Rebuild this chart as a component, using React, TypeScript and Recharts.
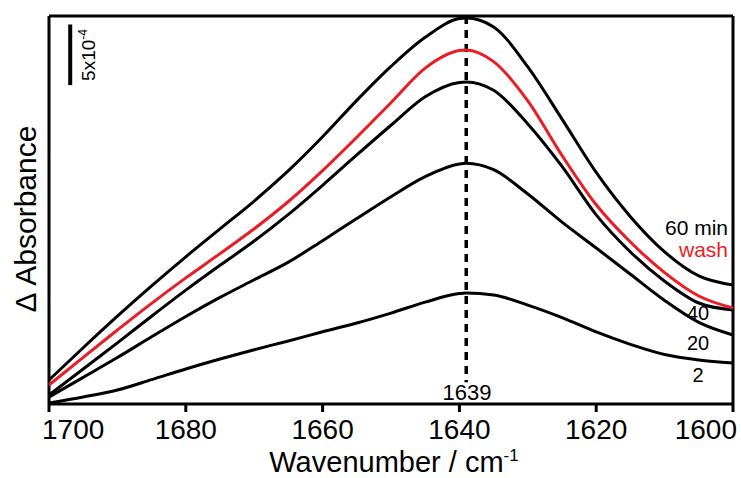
import { LineChart, Line, XAxis, YAxis, ReferenceLine, Label } from 'recharts';

const wavenumbers = [1700, 1695, 1690, 1685, 1680, 1675, 1670, 1665, 1660, 1655, 1650, 1645, 1640, 1639, 1635, 1630, 1625, 1620, 1615, 1610, 1605, 1600];
const min60 = [1.98, 4.64, 7.24, 9.74, 12.14, 14.44, 16.74, 19.24, 22.04, 25.04, 27.84, 30.24, 31.79, 31.84, 31.1, 27.8, 23.5, 19.1, 15.45, 12.55, 10.56, 9.81];
const wash = [1.57, 3.85, 6.1, 8.3, 10.4, 12.4, 14.45, 16.7, 19.25, 22.0, 24.85, 27.7, 29.15, 29.2, 28.24, 25.0, 20.5, 16.43, 13.36, 10.84, 8.91, 7.92];
const min40 = [0.74, 2.89, 5.04, 7.24, 9.39, 11.44, 13.44, 15.64, 18.04, 20.54, 22.99, 25.34, 26.52, 26.56, 25.87, 23.1, 19.6, 15.6, 12.54, 10.13, 8.33, 7.75];
const min20 = [0.58, 2.2, 3.83, 5.54, 7.22, 8.79, 10.25, 11.7, 13.47, 15.3, 17.1, 18.75, 19.8, 19.85, 19.32, 17.32, 15.0, 12.87, 10.7, 8.54, 6.73, 5.69];
const min2 = [0.08, 0.58, 1.15, 2.01, 2.89, 3.71, 4.48, 5.2, 5.96, 6.68, 7.5, 8.4, 9.11, 9.15, 8.99, 8.16, 7.13, 5.94, 4.92, 4.08, 3.63, 3.38];
const xTicks = [1700, 1680, 1660, 1640, 1620, 1600];
const peak = 1639;

const data = wavenumbers.map((wn, i) => ({
  wn,
  m60: min60[i],
  wash: wash[i],
  m40: min40[i],
  m20: min20[i],
  m2: min2[i],
}));

const FONT = '"Liberation Sans", Arial, sans-serif';
const RED = '#ec1c24';

const XTick = ({ x, y, payload }: any) => {
  let anchor = 'middle';
  let dx = 0;
  if (payload.value === 1700) { anchor = 'start'; dx = -7; }
  if (payload.value === 1600) { anchor = 'end'; dx = 4; }
  return (
    <text x={x + dx} y={y} dy="0.71em" textAnchor={anchor} fontSize={28} fill="#000" fontFamily={FONT}>
      {payload.value}
    </text>
  );
};

const XTitle = () => (
  <text x={394} y={471.5} textAnchor="middle" fontSize={29} fill="#000" fontFamily={FONT}>
    Wavenumber / cm<tspan dy={-11} fontSize={17}>-1</tspan>
  </text>
);

export default function App() {
  return (
    <div style={{ position: 'absolute', left: 0, top: 0, background: '#fff', fontFamily: FONT }}>
      <LineChart width={741} height={478} data={data} margin={{ top: 16, right: 8, left: 49, bottom: 0 }}>
        <XAxis
          dataKey="wn"
          type="number"
          domain={[1600, 1700]}
          reversed
          ticks={xTicks}
          interval={0}
          height={74}
          tickSize={8}
          tickMargin={7}
          axisLine={{ stroke: '#000', strokeWidth: 3 }}
          tickLine={{ stroke: '#000', strokeWidth: 3 }}
          tick={<XTick />}
        >
          <Label content={<XTitle />} />
        </XAxis>
        <YAxis hide type="number" domain={[0, 32]} />
        <ReferenceLine y={32} stroke="#000" strokeWidth={3} />
        <ReferenceLine x={1700} stroke="#000" strokeWidth={3} />
        <ReferenceLine x={1600} stroke="#000" strokeWidth={3} />
        <ReferenceLine
          segment={[{ x: peak, y: 32 }, { x: peak, y: 1.8 }]}
          stroke="#000"
          strokeWidth={3.5}
          strokeDasharray="8 6"
        />
        {/* scale bar: 5 units = 5x10^-4 */}
        <ReferenceLine
          segment={[{ x: 1696.9, y: 31.3 }, { x: 1696.9, y: 26.3 }]}
          stroke="#000"
          strokeWidth={4}
        />
        <Line type="monotone" dataKey="m2" stroke="#000" strokeWidth={3} dot={false} isAnimationActive={false} />
        <Line type="monotone" dataKey="m20" stroke="#000" strokeWidth={3} dot={false} isAnimationActive={false} />
        <Line type="monotone" dataKey="m40" stroke="#000" strokeWidth={3} dot={false} isAnimationActive={false} />
        <Line type="monotone" dataKey="m60" stroke="#000" strokeWidth={3} dot={false} isAnimationActive={false} />
        <Line type="monotone" dataKey="wash" stroke={RED} strokeWidth={3} dot={false} isAnimationActive={false} />

        <text x={467} y={400} textAnchor="middle" fontSize={22} fill="#000" fontFamily={FONT}>1639</text>
        <text x={728} y={235} textAnchor="end" fontSize={21} fill="#000" fontFamily={FONT}>60 min</text>
        <text x={728} y={257} textAnchor="end" fontSize={21} fill={RED} fontFamily={FONT}>wash</text>
        <text x={698} y={320} textAnchor="middle" fontSize={20} fill="#000" fontFamily={FONT}>40</text>
        <text x={698} y={350} textAnchor="middle" fontSize={20} fill="#000" fontFamily={FONT}>20</text>
        <text x={698} y={382} textAnchor="middle" fontSize={20} fill="#000" fontFamily={FONT}>2</text>
        <text transform="translate(95,55) rotate(-90)" textAnchor="middle" fontSize={19} fill="#000" fontFamily={FONT}>
          5x10<tspan dy={-8} fontSize={12}>-4</tspan>
        </text>
        <text transform="translate(36,219) rotate(-90)" textAnchor="middle" fontSize={30} fill="#000" fontFamily={FONT}>
          Δ Absorbance
        </text>
      </LineChart>
    </div>
  );
}
